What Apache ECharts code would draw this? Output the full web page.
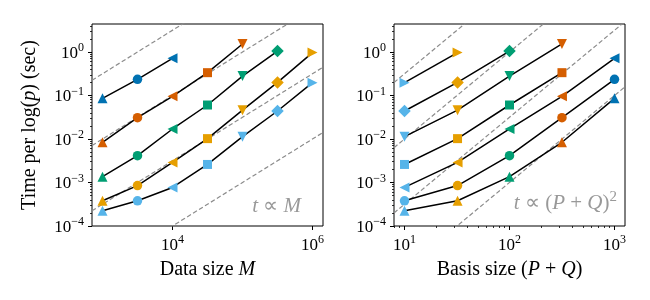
<!DOCTYPE html>
<html><head><meta charset="utf-8">
<script src="https://cdn.jsdelivr.net/npm/echarts@6/dist/echarts.min.js"></script>
<style>html,body{margin:0;padding:0;background:#fff}#c{width:650px;height:300px}</style>
</head><body><div id="c"></div>
<script>
// ---- data ----
const basisSizes = [10, 32, 100, 316, 1000];                          // P + Q
const dataSizes = [1000, 3162, 10000, 31623, 100000, 316228, 1000000]; // M
// time per log(p) (sec), one array per basis size, indexed by data size
const timesPQ10   = [0.000225, 0.00038, 0.00077, 0.0026, 0.0113, 0.044, 0.197];
const timesPQ32   = [0.00038, 0.00085, 0.0029, 0.0102, 0.046, 0.20, 0.97];
const timesPQ100  = [0.00136, 0.00414, 0.017, 0.0605, 0.28, 1.05, null];
const timesPQ316  = [0.0084, 0.031, 0.096, 0.335, 1.53, null, null];
const timesPQ1000 = [0.086, 0.235, 0.715, null, null, null, null];
const timesByBasis = [timesPQ10, timesPQ32, timesPQ100, timesPQ316, timesPQ1000];
// reference lines: log10 of coefficient c
const refLogCoefM  = [-3.5, -5, -6.5, -8];   // t = c * M
const refLogCoefPQ = [-2.5, -4, -5.5, -7];   // t = c * (P+Q)^2
// tick labels (exponents of 10)
const yTickExponents = [-4, -3, -2, -1, 0];
const leftXTickExponents = [4, 6];
const rightXTickExponents = [1, 2, 3];

// ---- styles ----
const basisColors = ['#56B4E9', '#E69F00', '#009E73', '#D55E00', '#0072B2'];
const markerStyles = [
  {symbol: 'triangle', rotate: 0, size: 10},
  {symbol: 'circle', rotate: 0, size: 9.5},
  {symbol: 'triangle', rotate: 90, size: 10},
  {symbol: 'rect', rotate: 0, size: 9},
  {symbol: 'triangle', rotate: 180, size: 10},
  {symbol: 'diamond', rotate: 0, size: 12.5},
  {symbol: 'triangle', rotate: -90, size: 10}
];
const FONT = 'Liberation Serif';
const yExt = [1e-4, Math.pow(10, 0.644)];
const xExtL = [Math.pow(10, 2.85), Math.pow(10, 6.15)];
const xExtR = [Math.pow(10, 0.9), Math.pow(10, 3.1)];

function minorTicks(lo, hi) {
  const out = [];
  for (let e = Math.floor(Math.log10(lo)); e <= Math.ceil(Math.log10(hi)); e++) {
    for (let k = 2; k <= 9; k++) { const v = k * Math.pow(10, e); if (v > lo && v < hi) out.push(v); }
  }
  return out;
}
const pow10 = e => Math.pow(10, e);
const supRich = {
  b: {fontFamily: FONT, fontSize: 17, color: '#000', verticalAlign: 'bottom'},
  s: {fontFamily: FONT, fontSize: 12, color: '#000', verticalAlign: 'bottom', padding: [0, 0, 8, 0]}
};
function fmtPow(v) {
  const e = Math.round(Math.log10(v));
  return '{b|10}{s|' + (e < 0 ? '\u2212' + (-e) : e) + '}';
}
const nameStyle = {
  fontFamily: FONT, fontSize: 20, color: '#000',
  rich: {i: {fontFamily: FONT, fontSize: 20, fontStyle: 'italic', color: '#000'}}
};

function majorAxis(gridIndex, ext, exps, extra) {
  const vals = exps.map(pow10);
  return Object.assign({
    type: 'log', logBase: 10, gridIndex, min: ext[0], max: ext[1],
    axisLine: {show: false}, splitLine: {show: false},
    axisTick: {show: true, inside: false, length: 4, lineStyle: {color: '#000', width: 1}, customValues: vals},
    axisLabel: {show: true, customValues: vals, formatter: fmtPow, rich: supRich, margin: 8, color: '#000'}
  }, extra);
}
function minorAxis(gridIndex, ext, extra) {
  return Object.assign({
    type: 'log', logBase: 10, gridIndex, min: ext[0], max: ext[1],
    axisLine: {show: false}, splitLine: {show: false}, axisLabel: {show: false},
    axisTick: {show: true, inside: false, length: 2, lineStyle: {color: '#000', width: 0.8}, customValues: minorTicks(ext[0], ext[1])}
  }, extra);
}

const xAxis = [
  majorAxis(0, xExtL, leftXTickExponents, {position: 'bottom', name: 'Data size {i|M}', nameLocation: 'middle', nameGap: 34, nameTextStyle: nameStyle}),
  majorAxis(1, xExtR, rightXTickExponents, {position: 'bottom', name: 'Basis size ({i|P} + {i|Q})', nameLocation: 'middle', nameGap: 34, nameTextStyle: nameStyle}),
  minorAxis(1, xExtR, {position: 'bottom'})
];
const yAxis = [
  majorAxis(0, yExt, yTickExponents, {position: 'left', name: 'Time per log({i|p}) (sec)', nameLocation: 'middle', nameGap: 52, nameRotate: 90, nameTextStyle: nameStyle}),
  minorAxis(0, yExt, {position: 'left'}),
  majorAxis(1, yExt, yTickExponents, {position: 'left'}),
  minorAxis(1, yExt, {position: 'left'})
];

const series = [];
const dashStyle = {color: '#8c8c8c', width: 1.2, type: [4.5, 2.5]};
refLogCoefM.forEach(c => {
  series.push({type: 'line', xAxisIndex: 0, yAxisIndex: 0, symbol: 'none', silent: true, z: 1, clip: true,
    lineStyle: dashStyle, data: xExtL.map(x => [x, pow10(c) * x])});
});
refLogCoefPQ.forEach(c => {
  series.push({type: 'line', xAxisIndex: 1, yAxisIndex: 2, symbol: 'none', silent: true, z: 1, clip: true,
    lineStyle: dashStyle, data: xExtR.map(x => [x, pow10(c) * x * x])});
});
function pt(x, t, j, i) {
  const m = markerStyles[j];
  return {value: [x, t], symbol: m.symbol, symbolSize: m.size, symbolRotate: m.rotate, itemStyle: {color: basisColors[i], opacity: 1}};
}
// left: one line per basis size, x = data size
basisSizes.forEach((pq, i) => {
  const data = [];
  dataSizes.forEach((m, j) => { const t = timesByBasis[i][j]; if (t != null) data.push(pt(m, t, j, i)); });
  series.push({type: 'line', xAxisIndex: 0, yAxisIndex: 0, z: 2, silent: true, data,
    lineStyle: {color: '#000', width: 1.5}, emphasis: {disabled: true}});
});
// right: one line per data size, x = basis size
dataSizes.forEach((m, j) => {
  const data = [];
  basisSizes.forEach((pq, i) => { const t = timesByBasis[i][j]; if (t != null) data.push(pt(pq, t, j, i)); });
  series.push({type: 'line', xAxisIndex: 1, yAxisIndex: 2, z: 2, silent: true, data,
    lineStyle: {color: '#000', width: 1.5}, emphasis: {disabled: true}});
});

const annRich = {
  i: {fontFamily: FONT, fontSize: 21, fontStyle: 'italic', fill: '#999', verticalAlign: 'bottom'},
  r: {fontFamily: FONT, fontSize: 21, fill: '#999', verticalAlign: 'bottom'},
  s: {fontFamily: FONT, fontSize: 15, fill: '#999', verticalAlign: 'bottom', padding: [0, 0, 9, 0]}
};
const option = {
  animation: false,
  backgroundColor: '#fff',
  grid: [
    {left: 92, top: 24, width: 231, height: 202, show: true, borderColor: '#000', borderWidth: 1, backgroundColor: 'transparent'},
    {left: 394, top: 24, width: 231, height: 202, show: true, borderColor: '#000', borderWidth: 1, backgroundColor: 'transparent'}
  ],
  xAxis, yAxis, series,
  graphic: [
    {type: 'text', x: 301, y: 206, silent: true, z: 10, style: {text: '{i|t}{r| \u221D }{i|M}', align: 'right', verticalAlign: 'middle', rich: annRich, fill: '#999', fontFamily: FONT, fontSize: 21}},
    {type: 'text', x: 617, y: 202, silent: true, z: 10, style: {text: '{i|t}{r| \u221D (}{i|P}{r| + }{i|Q}{r|)}{s|2}', align: 'right', verticalAlign: 'middle', rich: annRich, fill: '#999', fontFamily: FONT, fontSize: 21}}
  ]
};
const chart = echarts.init(document.getElementById('c'), null, {renderer: 'canvas'});
chart.setOption(option);
</script></body></html>
